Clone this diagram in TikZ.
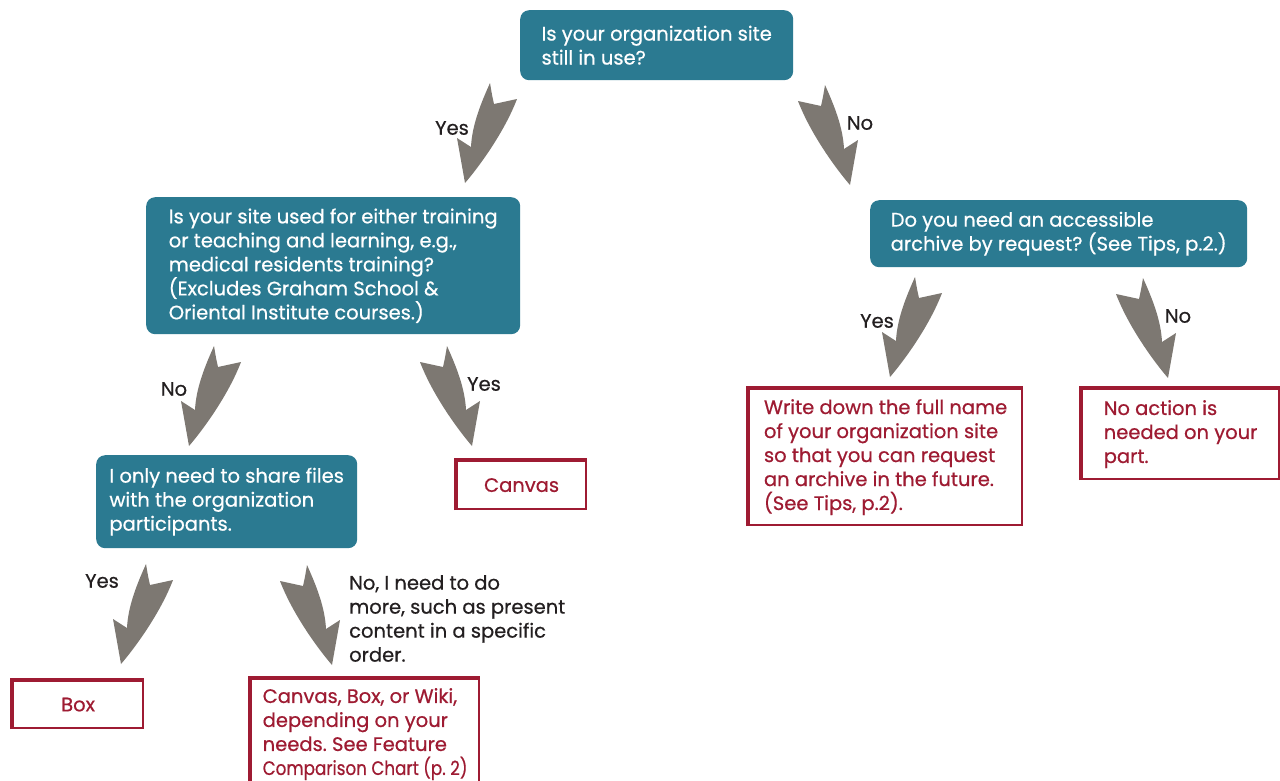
\documentclass[tikz,border=0pt]{standalone}
\usepackage{fontspec}
\setmainfont{Poppins}[FakeBold=0.6]
\frenchspacing
\definecolor{tealq}{HTML}{2B7A91}
\definecolor{redb}{HTML}{9E1B32}
\definecolor{arrowgray}{HTML}{7D7872}
\definecolor{labeltext}{HTML}{231F20}
\newcommand{\dfont}{\fontsize{19.5}{24}\selectfont}
\tikzset{
  qbox/.style={fill=tealq, rounded corners=9pt, text=white, align=left,
    anchor=north west, inner sep=0pt, font=\dfont},
  rbox/.style={draw=redb, line width=2.2pt, fill=white, text=redb, align=left,
    anchor=north west, inner sep=0pt, font=\dfont},
  lbl/.style={text=labeltext, font=\dfont, align=left, inner sep=0pt},
  garrow/.pic={\fill[arrowgray] (0,0) .. controls (9,20) and (18,42) .. (19,64)
     -- (33,55) -- (25,100) .. controls (12,85) and (-14,50) .. (-27,16)
     -- (-4,21) .. controls (-2,12) .. (0,0);}
}
\newcommand{\thickedge}[1]{\draw[redb, line width=4.5pt] (#1.south west) -- (#1.north west) -- (#1.north east);}
\begin{document}
\begin{tikzpicture}[x=1pt,y=-1pt]
\useasboundingbox (0,0) rectangle (1280,780);
% question boxes
\node[qbox, minimum width=273pt, minimum height=70pt] (q1) at (520,10)
  {Is your organization site\\still in use?};
\node[qbox, minimum width=374pt, minimum height=137pt] (q2) at (146,197)
  {Is your site used for either training\\or teaching and learning, e.g.,\\medical residents training?\\(Excludes Graham School \&\\Oriental Institute courses.)};
\node[qbox, minimum width=377pt, minimum height=67pt] (q3) at (870,200)
  {Do you need an accessible\\archive by request? (See Tips, p.2.)};
\node[qbox, minimum width=261pt, minimum height=93pt] (q4) at (96,455)
  {I only need to share files\\with the organization\\participants.};
% result boxes
\node[rbox, align=center, minimum width=129pt, minimum height=48pt] (canvas) at (456,460) {Canvas};
\thickedge{canvas}
\node[rbox, align=center, minimum width=130pt, minimum height=47pt] (box) at (12,680) {Box};
\thickedge{box}
\node[rbox, inner ysep=9pt, minimum width=228pt] (cbw) at (250,678)
  {Canvas, Box, or Wiki,\\depending on your\\needs. See Feature\\\scalebox{0.86}[1]{\dfont Comparison Chart (p. 2)}};
\thickedge{cbw}
\node[rbox, minimum width=273pt, minimum height=136pt] (write) at (748,388)
  {Write down the full name\\of your organization site\\so that you can request\\an archive in the future.\\(See Tips, p.2).};
\thickedge{write}
\node[rbox, minimum width=197pt, minimum height=90pt] (noact) at (1081,388)
  {No action is\\needed on your\\part.};
\thickedge{noact}
% arrows
\pic[xscale=-1] at (490,83) {garrow};
\pic at (825,85) {garrow};
\pic[xscale=-1] at (214,346) {garrow};
\pic at (447,346) {garrow};
\pic[xscale=-1] at (915,277) {garrow};
\pic at (1143,278) {garrow};
\pic[xscale=-1] at (146,564) {garrow};
\pic at (307,565) {garrow};
% labels
\node[lbl] (l1) at (452,128) {Yes};
\node[lbl] (l2) at (860,123) {No};
\node[lbl] (l3) at (174,389) {No};
\node[lbl] (l4) at (484,384) {Yes};
\node[lbl] (l5) at (877,321) {Yes};
\node[lbl] (l6) at (1178,316) {No};
\node[lbl] (l7) at (102,581) {Yes};
\node[lbl, anchor=north west] (l8) at (349,575) {No, I need to do\\more, such as present\\content in a specific\\order.};
\end{tikzpicture}
\end{document}
